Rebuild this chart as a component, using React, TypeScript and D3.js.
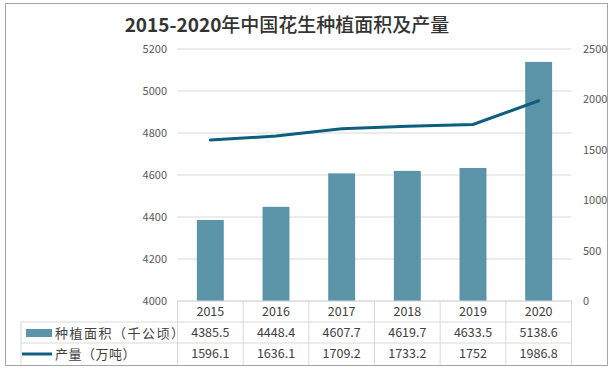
import * as d3 from 'd3';

const years = ['2015', '2016', '2017', '2018', '2019', '2020'];
const areaValues = [4385.5, 4448.4, 4607.7, 4619.7, 4633.5, 5138.6];
const outputValues = [1596.1, 1636.1, 1709.2, 1733.2, 1752, 1986.8];
const leftTicks = [4000, 4200, 4400, 4600, 4800, 5000, 5200];
const rightTicks = [0, 500, 1000, 1500, 2000, 2500];
const areaLabels = ['4385.5', '4448.4', '4607.7', '4619.7', '4633.5', '5138.6'];
const outputLabels = ['1596.1', '1636.1', '1709.2', '1733.2', '1752', '1986.8'];

const titleYears = '2015-2020';
const titleRest = '年中国花生种植面积及产量';
const areaName = '种植面积（千公顷）';
const outputName = '产量（万吨）';

const width = 615;
const height = 369;
const plot = { left: 177.5, right: 571.5, top: 49, bottom: 301 };
const rowY = [301, 322, 343, 365];
const legendLeft = 21;

const barColor = '#5B93A8';
const lineColor = '#0E5F7E';
const gridColor = '#D9D9D9';
const font = '"Noto Sans CJK SC", "Noto Sans", sans-serif';

export default function App() {
  const x = d3.scaleBand<string>().domain(years).range([plot.left, plot.right]);
  const yLeft = d3.scaleLinear().domain([4000, 5200]).range([plot.bottom, plot.top]);
  const yRight = d3.scaleLinear().domain([0, 2500]).range([plot.bottom, plot.top]);
  const barW = x.bandwidth() * 0.41;

  const line = d3
    .line<number>()
    .x((_, i) => x(years[i])! + x.bandwidth() / 2)
    .y((d) => yRight(d));

  return (
    <svg
      width={width}
      height={height}
      style={{ position: 'absolute', left: 0, top: 0, fontFamily: font }}
    >
      <rect x={0} y={0} width={width} height={height} fill="#fff" />
      <rect x={5.5} y={3.5} width={602} height={362} fill="none" stroke="#A6A6A6" />

      <text x={287} y={32} textAnchor="middle" fontSize={19} fill="#333333">
        <tspan fontWeight="bold">{titleYears}</tspan>
        <tspan fontWeight="500">{titleRest}</tspan>
      </text>

      {/* gridlines */}
      {leftTicks.map((t) => (
        <line
          key={t}
          x1={plot.left}
          x2={plot.right}
          y1={yLeft(t)}
          y2={yLeft(t)}
          stroke={gridColor}
        />
      ))}

      {/* left axis labels */}
      {leftTicks.map((t) => (
        <text
          key={'l' + t}
          x={167}
          y={yLeft(t) + 4}
          textAnchor="end"
          fontSize={11}
          fill="#595959"
        >
          {t}
        </text>
      ))}

      {/* right axis labels */}
      {rightTicks.map((t) => (
        <text
          key={'r' + t}
          x={583}
          y={yRight(t) + 4}
          textAnchor="start"
          fontSize={11}
          fill="#595959"
        >
          {t}
        </text>
      ))}

      {/* bars */}
      {areaValues.map((v, i) => (
        <rect
          key={years[i]}
          x={x(years[i])! + (x.bandwidth() - barW) / 2}
          y={yLeft(v)}
          width={barW}
          height={plot.bottom - yLeft(v)}
          fill={barColor}
        />
      ))}

      <path d={line(outputValues)!} fill="none" stroke={lineColor} strokeWidth={3} strokeLinecap="round" />

      {/* data table */}
      <g stroke={gridColor} fill="none">
        <line x1={plot.left} x2={plot.right} y1={rowY[0]} y2={rowY[0]} />
        <line x1={legendLeft} x2={plot.right} y1={rowY[1]} y2={rowY[1]} />
        <line x1={legendLeft} x2={plot.right} y1={rowY[2]} y2={rowY[2]} />
        <line x1={legendLeft} x2={legendLeft} y1={rowY[1]} y2={rowY[3]} />
        {years.map((yr) => (
          <line key={yr} x1={x(yr)} x2={x(yr)} y1={rowY[0]} y2={rowY[3]} />
        ))}
        <line x1={plot.right} x2={plot.right} y1={rowY[0]} y2={rowY[3]} />
      </g>

      {years.map((yr, i) => {
        const cx = x(yr)! + x.bandwidth() / 2;
        return (
          <g key={'t' + yr} fontSize={12.5} fill="#404040" textAnchor="middle">
            <text x={cx} y={rowY[0] + 15}>{yr}</text>
            <text x={cx} y={rowY[1] + 15}>{areaLabels[i]}</text>
            <text x={cx} y={rowY[2] + 15}>{outputLabels[i]}</text>
          </g>
        );
      })}

      {/* legend keys */}
      <rect x={26} y={rowY[1] + 7} width={26} height={8} fill={barColor} />
      <text x={55} y={rowY[1] + 15.5} fontSize={13} letterSpacing={1.5} fill="#404040">
        {areaName}
      </text>
      <line x1={22} x2={52} y1={rowY[2] + 11} y2={rowY[2] + 11} stroke={lineColor} strokeWidth={3} />
      <text x={55} y={rowY[2] + 15.5} fontSize={13} letterSpacing={0.5} fill="#404040">
        {outputName}
      </text>
    </svg>
  );
}
